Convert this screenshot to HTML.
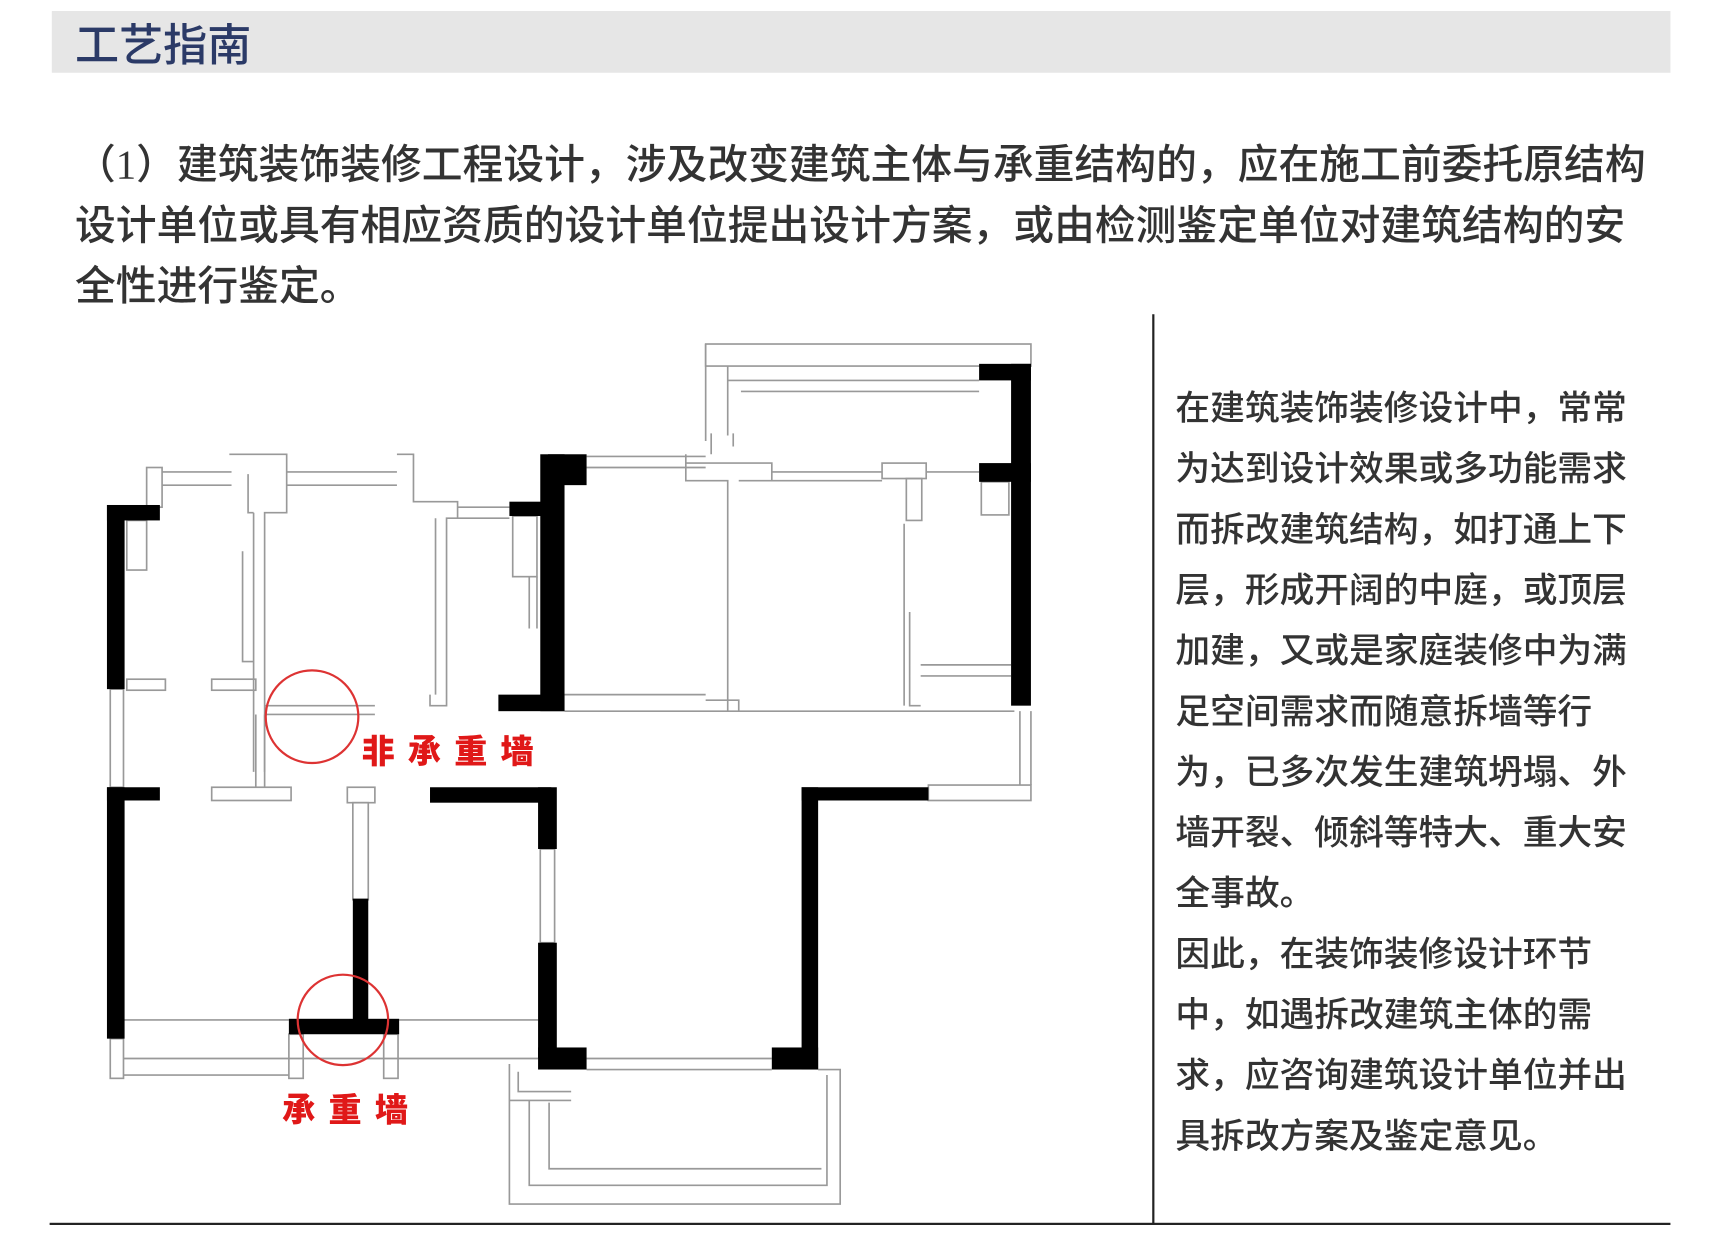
<!DOCTYPE html>
<html><head><meta charset="utf-8">
<style>
html,body{margin:0;padding:0;background:#fff;width:1728px;height:1245px;overflow:hidden}
#w{position:absolute;left:0;top:0;width:1560px;height:1124px;transform:scale(1.1026);transform-origin:0 0;font-family:"Liberation Serif","Noto Sans CJK SC",sans-serif}
.hdr{position:absolute;left:47px;top:10px;width:1468px;height:56px;background:#e6e6e6}
.ttl{position:absolute;left:68px;top:12px;font-size:40px;line-height:52px;color:#2b3a67;font-family:"Noto Sans CJK SC",sans-serif;font-weight:500}
.p{position:absolute;left:68px;top:123px;width:1460px;font-size:37px;line-height:55px;color:#333;white-space:nowrap;font-weight:500}
.r{position:absolute;left:1066px;top:341px;font-size:31.5px;line-height:55px;color:#333;white-space:nowrap;font-family:"Noto Sans CJK SC",sans-serif;font-weight:500}
.vl{position:absolute;left:1045px;top:285px;width:2px;height:825px;background:#222}
.hl{position:absolute;left:45px;top:1109px;width:1470px;height:2px;background:#222}
svg{position:absolute;left:0;top:0}
</style></head><body><div id="w">
<div class="hdr"></div>
<div class="ttl">工艺指南</div>
<div class="p">（1）建筑装饰装修工程设计，涉及改变建筑主体与承重结构的，应在施工前委托原结构<br>设计单位或具有相应资质的设计单位提出设计方案，或由检测鉴定单位对建筑结构的安<br>全性进行鉴定。</div>
<div class="vl"></div>
<div class="r">在建筑装饰装修设计中，常常<br>为达到设计效果或多功能需求<br>而拆改建筑结构，如打通上下<br>层，形成开阔的中庭，或顶层<br>加建，又或是家庭装修中为满<br>足空间需求而随意拆墙等行<br>为，已多次发生建筑坍塌、外<br>墙开裂、倾斜等特大、重大安<br>全事故。<br>因此，在装饰装修设计环节<br>中，如遇拆改建筑主体的需<br>求，应咨询建筑设计单位并出<br>具拆改方案及鉴定意见。</div>
<div class="hl"></div>
<svg width="1560" height="1124" viewBox="0 0 1560 1124">
<g fill="none" stroke="#999" stroke-width="1.5">
<rect x="640" y="312" width="295" height="20"/>
<path d="M640 312 V400 M660 332 V395 M660 345 H888 M672 355 H888"/>
<rect x="133" y="424" width="14" height="36"/>
<path d="M147 428 H210 M147 440 H210 M260 428 H360 M260 440 H360 M415 460 H462 M415 470 H462 M532 414 H640 M532 424 H640 M700 428 H800 M700 436 H800 M840 428 H888"/>
<path d="M208 412 H260 V465 H240 V700 M225 430 V465 H230 M220 500 V600 H230 M230 465 V700"/>
<path d="M360 412 H375 V455 H415 V470 H405 V640 H390 V630 M395 470 V630"/>
<path d="M622 412 V436 H660 V645 M670 436 H700 V420 H622 M645 393 V412 M665 393 V405"/>
<rect x="800" y="420" width="40" height="14"/>
<rect x="822" y="434" width="14" height="38"/>
<path d="M820 475 V640 M825 555 V640 H835 M835 603 H917 M835 613 H917"/>
<rect x="890" y="437" width="25" height="30"/>
<rect x="465" y="468" width="22" height="55"/>
<path d="M480 523 V570 M487 523 V570"/>
<path d="M512 630 H640 M512 645 H920 M640 635 H670 V645"/>
<rect x="115" y="472" width="18" height="45"/>
<rect x="115" y="616" width="35" height="10"/>
<rect x="192" y="616" width="40" height="10"/>
<rect x="100" y="625" width="12" height="89"/>
<path d="M240 640 H340 M240 648 H340"/>
<rect x="192" y="714" width="72" height="12"/>
<path d="M232 648 V714 M240 648 V714"/>
<rect x="315" y="714" width="25" height="14"/>
<rect x="320" y="728" width="14" height="88"/>
<rect x="100" y="942" width="12" height="36"/>
<path d="M112 925 H262 M112 960 H488 M112 975 H262 M362 925 H488"/>
<rect x="262" y="938" width="13" height="40"/>
<rect x="348" y="938" width="13" height="40"/>
<rect x="490" y="770" width="13" height="85"/>
<path d="M925 645 V712 M935 645 V712"/>
<rect x="842" y="712" width="93" height="14"/>
<path d="M532 960 H700 M532 970 H700"/>
<path d="M462 965 V998 H518 M470 972 V990 H518 M462 998 V1092 H762 V970 H742 M480 998 V1075 H750 V975 M498 1000 V1060 H745"/>
</g>
<g fill="#000">
<rect x="97" y="458" width="16" height="167"/><rect x="97" y="458" width="48" height="14"/>
<rect x="97" y="714" width="16" height="228"/><rect x="97" y="714" width="48" height="12"/>
<rect x="320" y="815" width="14" height="115"/><rect x="262" y="924" width="100" height="14"/>
<rect x="390" y="714" width="110" height="14"/><rect x="488" y="714" width="17" height="56"/>
<rect x="488" y="855" width="17" height="105"/><rect x="488" y="950" width="44" height="20"/>
<rect x="490" y="412" width="22" height="233"/><rect x="497" y="412" width="35" height="28"/>
<rect x="462" y="455" width="35" height="13"/><rect x="452" y="630" width="60" height="15"/>
<rect x="917" y="330" width="18" height="310"/><rect x="888" y="330" width="47" height="15"/>
<rect x="888" y="420" width="47" height="17"/>
<rect x="727" y="714" width="15" height="256"/><rect x="727" y="714" width="115" height="12"/>
<rect x="700" y="950" width="42" height="20"/>
</g>
<g fill="none" stroke="#d33" stroke-width="2">
<circle cx="283" cy="650" r="42"/>
<circle cx="311" cy="925" r="41"/>
</g>
<g fill="#e01818" font-family="Noto Sans CJK SC,sans-serif" font-weight="900" font-size="30">
<text x="328" y="692" letter-spacing="12">非承重墙</text>
<text x="256" y="1017" letter-spacing="12">承重墙</text>
</g>
</svg>
</div></body></html>
